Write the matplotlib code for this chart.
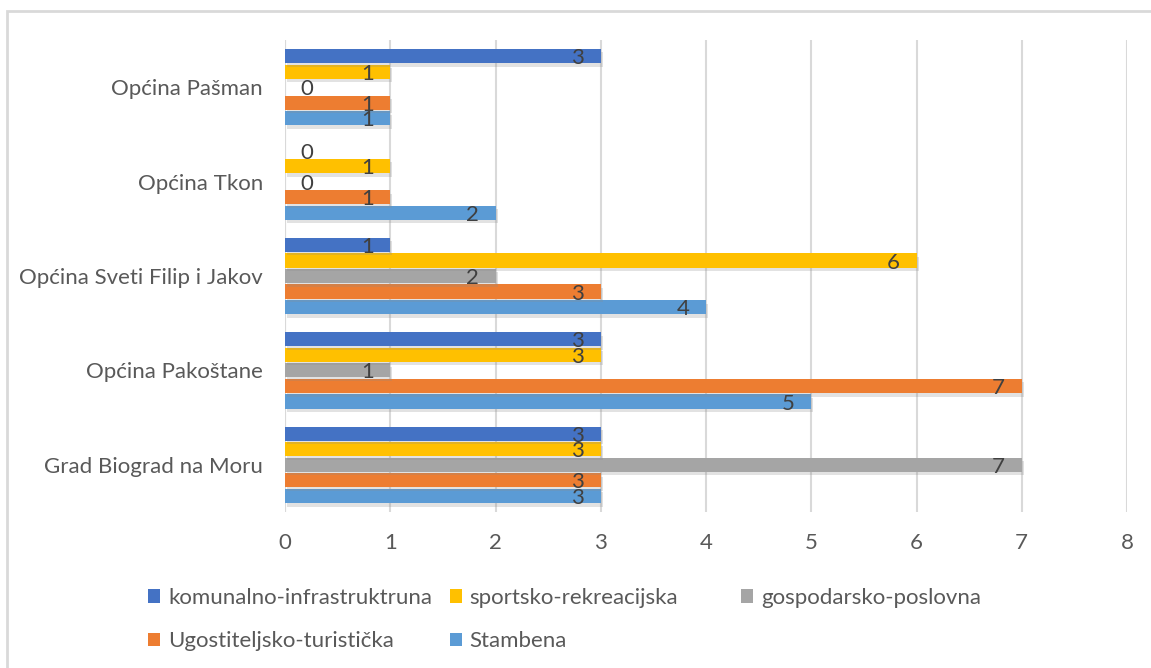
import matplotlib
matplotlib.use("Agg")
import matplotlib.pyplot as plt
import matplotlib.patheffects as pe
from matplotlib.patches import Rectangle, Patch

categories = ['Grad Biograd na Moru', 'Općina Pakoštane', 'Općina Sveti Filip i Jakov',
              'Općina Tkon', 'Općina Pašman']
stambena = [3, 5, 4, 2, 1]
ugostiteljsko = [3, 7, 3, 1, 1]
gospodarsko = [7, 1, 2, 0, 0]
sportsko = [3, 3, 6, 1, 1]
komunalno = [3, 3, 1, 0, 3]

series = [
    ('Stambena', stambena, '#5B9BD5'),
    ('Ugostiteljsko-turistička', ugostiteljsko, '#ED7D31'),
    ('gospodarsko-poslovna', gospodarsko, '#A5A5A5'),
    ('sportsko-rekreacijska', sportsko, '#FFC000'),
    ('komunalno-infrastruktruna', komunalno, '#4472C4'),
]
xticks = [0, 1, 2, 3, 4, 5, 6, 7, 8]

plt.rcParams['font.family'] = ['Lato', 'DejaVu Sans']
FS = 16
TXT = '#595959'

fig = plt.figure(figsize=(11.51, 6.68), dpi=100)
fig.patches.append(Rectangle((7 / 1151, -0.01), 1.05, (668 - 11) / 668 + 0.01,
                             transform=fig.transFigure, fill=False,
                             edgecolor='#d9d9d9', linewidth=2))
ax = fig.add_axes([285 / 1151, 1 - 512 / 668, (1127 - 285) / 1151, (512 - 40) / 668])

step = 0.165
h = 0.15
handles = {}
shadow = [pe.SimplePatchShadow(offset=(1.5, -2.5), shadow_rgbFace='#8c8c8c', alpha=0.25), pe.Normal()]
for i, (name, vals, col) in enumerate(series):
    ys = [c + (i - 2) * step for c in range(len(categories))]
    bars = ax.barh(ys, vals, height=h, color=col, zorder=3, label=name)
    for b in bars:
        b.set_path_effects(shadow)
    handles[name] = bars
    for y, v in zip(ys, vals):
        if v > 0:
            ax.annotate(str(v), (v, y), xytext=(-12, -1.5), textcoords='offset points',
                        ha='right', va='center', fontsize=FS, color='#404040', zorder=5)
        else:
            ax.annotate(str(v), (v, y), xytext=(11, -1.5), textcoords='offset points',
                        ha='left', va='center', fontsize=FS, color='#404040', zorder=5)

ax.set_xlim(0, 8)
ax.set_ylim(-0.5, 4.5)
ax.set_xticks(xticks)
ax.set_xticklabels([str(t) for t in xticks])
ax.set_yticks(range(len(categories)))
ax.set_yticklabels(categories)
ax.tick_params(axis='both', length=0, labelsize=FS, labelcolor=TXT)
ax.tick_params(axis='y', pad=16)
ax.tick_params(axis='x', pad=15)
ax.grid(axis='x', color='#d9d9d9', linewidth=1.5, zorder=0)
for s in ax.spines.values():
    s.set_visible(False)
ax.axvline(0, color='#d9d9d9', linewidth=1.5, zorder=1)

def H(name):
    col = [c for n, v, c in series if n == name][0]
    return Patch(facecolor=col, edgecolor='none')

leg1 = fig.legend([H('komunalno-infrastruktruna'), H('Ugostiteljsko-turistička'),
                   H('sportsko-rekreacijska'), H('Stambena')],
                  ['komunalno-infrastruktruna', 'Ugostiteljsko-turistička',
                   'sportsko-rekreacijska', 'Stambena'],
                  ncol=2, loc='upper left', bbox_to_anchor=(148 / 1151, 1 - 588 / 668),
                  frameon=False, fontsize=FS, labelcolor=TXT, handlelength=0.55,
                  handleheight=0.55, handletextpad=0.35, columnspacing=0.8,
                  labelspacing=1.05, borderaxespad=0, borderpad=0)
leg2 = fig.legend([H('gospodarsko-poslovna')], ['gospodarsko-poslovna'],
                  loc='upper left', bbox_to_anchor=(741 / 1151, 1 - 588 / 668),
                  frameon=False, fontsize=FS, labelcolor=TXT, handlelength=0.55,
                  handleheight=0.55, handletextpad=0.35, borderaxespad=0, borderpad=0)

fig.savefig('out.png', dpi=100)
